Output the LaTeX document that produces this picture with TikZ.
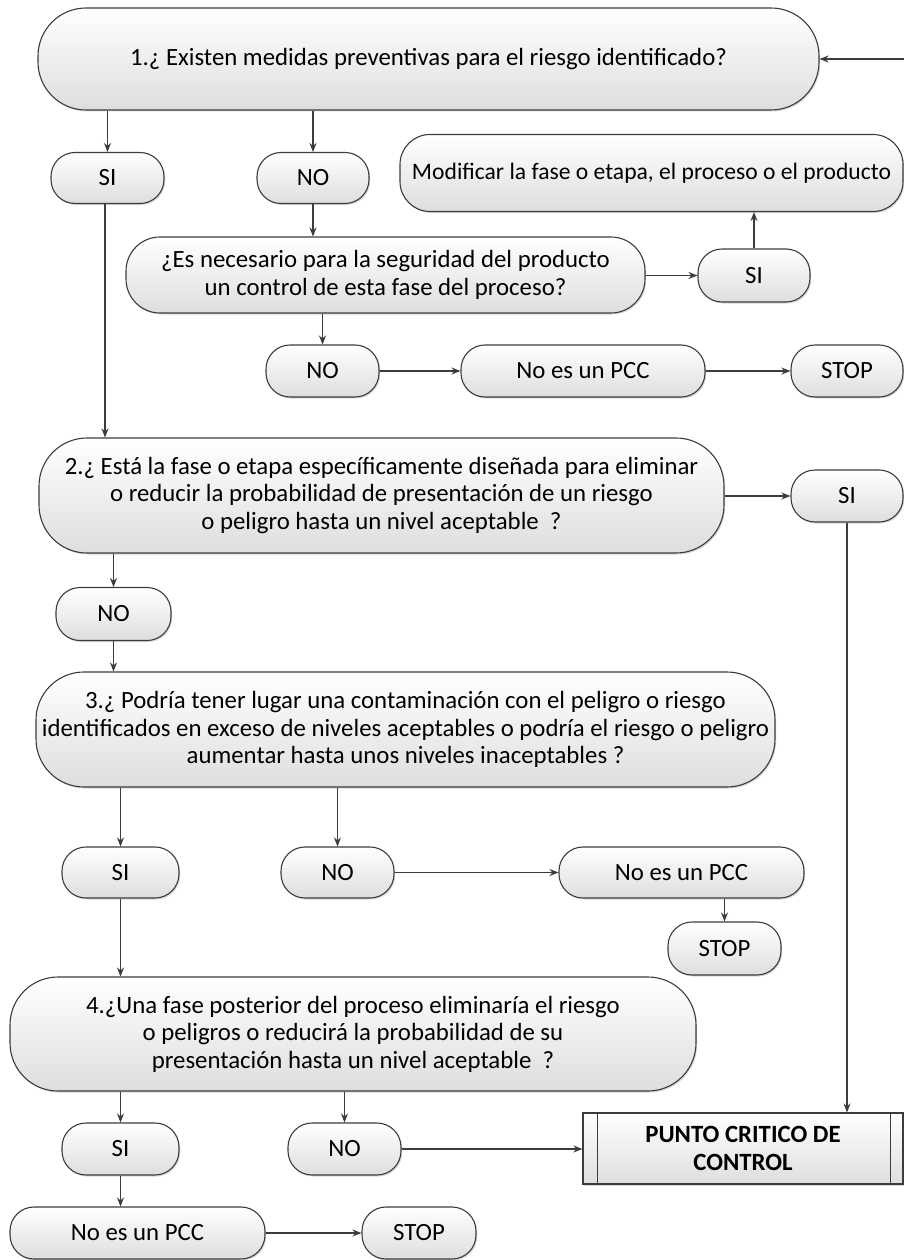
\documentclass[tikz,border=0pt]{standalone}
\usepackage{fontspec}
\setmainfont{Carlito}
\usetikzlibrary{arrows.meta,shadows,calc}

\definecolor{edge}{HTML}{3C3C3C}

\tikzset{
  box/.style={draw=edge, line width=1.1pt, top color=white, bottom color=black!13,
    align=center, inner sep=0pt, font=\fontsize{24.8}{27.5}\selectfont,
    drop shadow={shadow xshift=1.2pt, shadow yshift=-1.5pt, opacity=0.3}},
  pill/.style={box, rounded corners=24pt},
  bigpill/.style={box, rounded corners=48pt},
  midpill/.style={box, rounded corners=34pt},
  sz/.style 2 args={minimum width=#1pt, minimum height=#2pt},
  flow/.style={draw=edge, line width=1.1pt, -{Stealth[length=9pt,width=7pt]}},
  bare/.style={draw=edge, line width=1.1pt}
}

\begin{document}
\begin{tikzpicture}[x=1pt, y=-1pt]
\useasboundingbox[fill=white] (0,0) rectangle (904,1260);

% question 1 and its answers
\node[bigpill, sz={781}{102}] (q1) at (428.5,59) {1.¿ Existen medidas preventivas para el riesgo identificado?};
\node[pill, sz={113}{51}] (si1) at (107.5,178) {SI};
\node[pill, sz={112}{51}] (no1) at (313,178) {NO};
\node[box, rounded corners=30pt, sz={503}{77}, font=\fontsize{23.6}{27.5}\selectfont] (mod) at (651.5,173) {Modificar la fase o etapa, el proceso o el producto};
\node[midpill, sz={519}{76}] (qb) at (385.5,275) {¿Es necesario para la seguridad del producto\\un control de esta fase del proceso?};
\node[pill, sz={112}{53}] (si2) at (754,275.5) {SI};
\node[pill, sz={113}{52}] (no2) at (322.5,371) {NO};
\node[pill, sz={244}{52}] (pcc1) at (583,371) {No es un PCC};
\node[pill, sz={112}{52}] (stop1) at (847,371) {STOP};

% question 2
\node[bigpill, sz={685}{115}] (q2) at (381.5,495.5) {2.¿ Está la fase o etapa específicamente diseñada para eliminar\\o reducir la probabilidad de presentación de un riesgo\\o peligro hasta un nivel aceptable\ \ ?};
\node[pill, sz={112}{52}] (si3) at (847,496) {SI};
\node[pill, sz={115}{53}] (no3) at (113.5,614) {NO};

% question 3
\node[bigpill, sz={739}{115}] (q3) at (405.5,729.5) {3.¿ Podría tener lugar una contaminación con el peligro o riesgo\\identificados en exceso de niveles aceptables o podría el riesgo o peligro\\aumentar hasta unos niveles inaceptables ?};
\node[pill, sz={117}{51}] (si4) at (120.5,872.5) {SI};
\node[pill, sz={113}{51}] (no4) at (337.5,872.5) {NO};
\node[pill, sz={245}{51}] (pcc2) at (681.5,872.5) {No es un PCC};
\node[pill, sz={113}{53}] (stop2) at (724.5,948.5) {STOP};

% question 4
\node[bigpill, sz={686}{114}] (q4) at (353,1034) {4.¿Una fase posterior del proceso eliminaría el riesgo\\o peligros o reducirá la probabilidad de su\\presentación hasta un nivel aceptable\ \ ?};
\node[pill, sz={117}{52}] (si5) at (120.5,1149) {SI};
\node[pill, sz={113}{52}] (no5) at (344.5,1149) {NO};
\node[box, sz={320}{71}, font=\fontsize{24.8}{27.5}\selectfont\bfseries] (pcc) at (743,1148.5) {PUNTO CRITICO DE\\CONTROL};
\draw[bare] ([xshift=15pt]pcc.north west) -- ([xshift=15pt]pcc.south west);
\draw[bare] ([xshift=-13pt]pcc.north east) -- ([xshift=-13pt]pcc.south east);
\node[pill, sz={255}{52}] (pcc3) at (137.5,1233) {No es un PCC};
\node[pill, sz={114}{52}] (stop3) at (419,1233) {STOP};

% return loop entering question 1
\coordinate (back) at (904,59);
\draw[flow] (back) -- (q1.east);

% connectors
\draw[flow] (q1.south -| si1.north) -- (si1.north);
\draw[flow] (q1.south -| no1.north) -- (no1.north);
\draw[flow] (no1.south) -- (no1.south |- qb.north);
\draw[flow] (qb.east |- si2.west) -- (si2.west);
\draw[flow] (si2.north) -- (si2.north |- mod.south);
\draw[flow] (qb.south -| no2.north) -- (no2.north);
\draw[flow] (no2.east) -- (pcc1.west);
\draw[flow] (pcc1.east) -- (stop1.west);

\draw[flow] ([xshift=-2.5pt]si1.south) -- ([xshift=-2.5pt]si1.south |- q2.north);
\draw[flow] (q2.east |- si3.west) -- (si3.west);
\draw[flow] (si3.south) -- (si3.south |- pcc.north);
\draw[flow] (q2.south -| no3.north) -- (no3.north);
\draw[flow] (no3.south) -- (no3.south |- q3.north);

\draw[flow] (q3.south -| si4.north) -- (si4.north);
\draw[flow] (q3.south -| no4.north) -- (no4.north);
\draw[flow] (no4.east) -- (pcc2.west);
\draw[flow] (pcc2.south -| stop2.north) -- (stop2.north);
\draw[flow] (si4.south) -- (si4.south |- q4.north);

\draw[flow] (q4.south -| si5.north) -- (si5.north);
\draw[flow] (q4.south -| no5.north) -- (no5.north);
\draw[flow] (no5.east) -- (pcc.west |- no5.east);
\draw[flow] (si5.south) -- (si5.south |- pcc3.north);
\draw[flow] (pcc3.east) -- (stop3.west);
\end{tikzpicture}
\end{document}
